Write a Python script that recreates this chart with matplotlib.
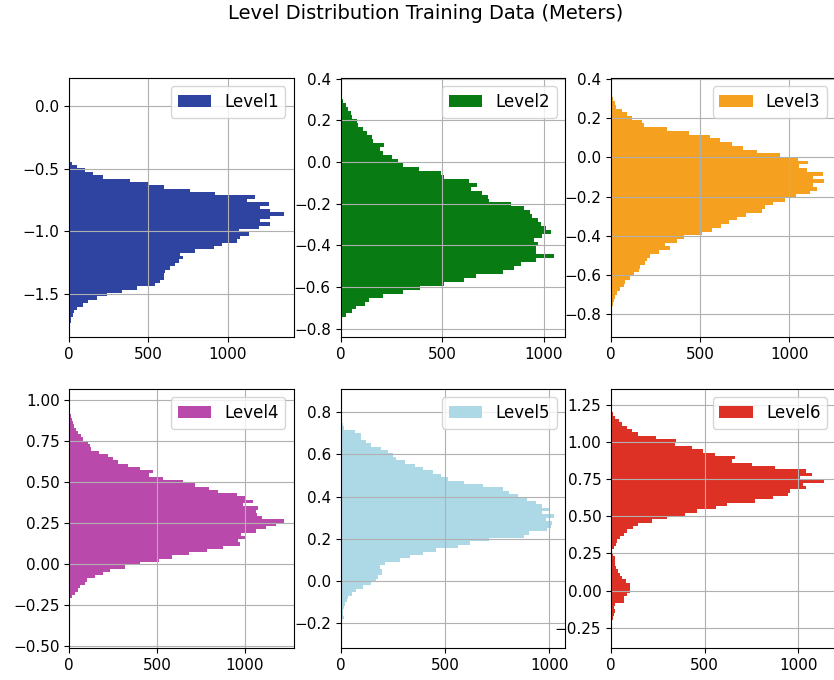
#!/usr/bin/env python3
# -*- coding: utf-8 -*-

"""
Level distribution of the training data, one horizontal histogram per level.
Counts are read bin by bin from the original figure.
"""

import numpy as np
import matplotlib
matplotlib.use("Agg")
import matplotlib.pyplot as plt
from matplotlib.ticker import MultipleLocator


# ============================================================
# Data (counts listed from the top bin downwards)
# ============================================================

LABELS = ["Level1", "Level2", "Level3", "Level4", "Level5", "Level6"]

COLORS = ["#2E44A0", "#087B12", "#F5A01F", "#B94AAB", "#ADD8E6", "#DE3126"]

# upper edge of the first bin and bin width [m]
BIN_TOP = [0.016, 0.300, 0.306, 0.910, 0.764, 1.200]
BIN_WIDTH = [0.027, 0.019, 0.019, 0.020, 0.016, 0.0225]

LEVEL1 = [6, 6] + [0] * 15 + [
    15, 46, 99, 150, 215, 384, 500, 595, 764, 922,
    1175, 1122, 1260, 1207, 1270, 1355, 1266, 1207, 1270, 1196,
    1070, 1133, 1080, 1060, 964, 912, 795, 700, 717, 690,
    669, 637, 605, 600, 595, 574, 542, 426, 331, 240,
    173, 120, 89, 46, 28, 22, 12, 8, 4,
]

LEVEL2 = [
    10, 26, 35, 50, 55, 79, 85, 109, 129, 153,
    160, 214, 195, 211, 252, 285, 307, 384, 492, 508,
    632, 673, 640, 698, 723, 731, 838, 904, 932, 940,
    970, 987, 1011, 1036, 990, 950, 970, 962, 962, 1049,
    962, 888, 855, 797, 665, 607, 508, 393, 307, 211,
    142, 120, 76, 59, 25, 8,
]

LEVEL3 = [
    11, 20, 30, 62, 90, 118, 174, 183, 313, 440,
    556, 610, 677, 743, 817, 950, 1047, 1107, 1056, 1097,
    1187, 1134, 1194, 1134, 1157, 1116, 1037, 976, 911, 864,
    845, 756, 705, 659, 616, 565, 509, 410, 369, 304,
    332, 267, 216, 200, 188, 164, 155, 127, 104, 80,
    71, 48, 34, 24, 15, 9,
]

LEVEL4 = [
    8, 13, 20, 27, 38, 51, 65, 76, 108, 118,
    125, 171, 222, 250, 279, 336, 402, 474, 455, 535,
    649, 715, 797, 848, 956, 1000, 1047, 990, 1076, 1063,
    1070, 1095, 1222, 1180, 1123, 1063, 981, 1006, 962, 971,
    877, 782, 683, 583, 512, 402, 317, 231, 194, 146,
    102, 89, 61, 51, 32, 13, 4, 3, 0, 5, 6,
]

LEVEL5 = [
    8, 14, 16, 68, 100, 100, 124, 148, 196, 228,
    252, 267, 307, 355, 395, 443, 482, 514, 594, 681,
    777, 809, 849, 896, 936, 968, 1000, 968, 1024, 984,
    1012, 1008, 992, 904, 880, 710, 621, 562, 458, 395,
    331, 283, 212, 188, 201, 201, 180, 169, 148, 108,
    76, 53, 37, 29, 22, 16, 10, 10, 18, 5,
]

LEVEL6 = [
    11, 23, 41, 59, 85, 112, 142, 240, 348, 343,
    432, 494, 556, 662, 645, 751, 876, 1044, 1076, 1010,
    1137, 1023, 1041, 955, 947, 867, 769, 620, 561, 458,
    396, 298, 218, 142, 117, 85, 67, 46, 32, 25,
    18, 5, 11, 23, 23, 23, 28, 35, 46, 59,
    82, 103, 99, 99, 85, 67, 67, 23, 14, 23,
    14, 12,
]

COUNTS = [LEVEL1, LEVEL2, LEVEL3, LEVEL4, LEVEL5, LEVEL6]

Y_LIMITS = [
    (-1.848, 0.228),
    (-0.839, 0.403),
    (-0.916, 0.405),
    (-0.514, 1.065),
    (-0.316, 0.909),
    (-0.387, 1.358),
]

Y_TICK_STEP = [0.5, 0.2, 0.2, 0.25, 0.2, 0.25]

X_LIMITS = [1418, 1104, 1259, 1279, 1076, 1199]
X_TICK_STEP = 500


# ============================================================
# Layout (pixels of the 834x680 canvas)
# ============================================================

W_PX, H_PX = 834, 680
AX_LEFT = [69.3, 340.5, 611.0]
AX_TOP = [78.0, 389.0]
AX_W, AX_H = 224.5, 259.0


# ============================================================
# Plot
# ============================================================

def plot_level_distribution():

    fig = plt.figure(figsize=(W_PX / 100, H_PX / 100), dpi=100)

    for i, (label, color, counts) in enumerate(zip(LABELS, COLORS, COUNTS)):

        row, col = divmod(i, 3)
        ax = fig.add_axes([
            AX_LEFT[col] / W_PX,
            1 - (AX_TOP[row] + AX_H) / H_PX,
            AX_W / W_PX,
            AX_H / H_PX,
        ])

        counts = np.asarray(counts[::-1], dtype=float)
        n = len(counts)
        top = BIN_TOP[i]
        width = BIN_WIDTH[i]
        edges = top - width * n + width * np.arange(n + 1)
        centers = 0.5 * (edges[:-1] + edges[1:])

        ax.hist(
            centers,
            bins=edges,
            weights=counts,
            orientation="horizontal",
            color=color,
            label=label,
        )

        ax.set_ylim(*Y_LIMITS[i])
        ax.set_xlim(0, X_LIMITS[i])
        ax.yaxis.set_major_locator(MultipleLocator(Y_TICK_STEP[i]))
        ax.xaxis.set_major_locator(MultipleLocator(X_TICK_STEP))
        ax.tick_params(labelsize=11)
        ax.grid(True)
        ax.legend(loc="upper right", fontsize=12)

    fig.suptitle(
        "Level Distribution Training Data (Meters)",
        x=0.51,
        y=0.994,
        fontsize=14,
    )

    fig.savefig("out.png", dpi=100)


if __name__ == "__main__":
    plot_level_distribution()
